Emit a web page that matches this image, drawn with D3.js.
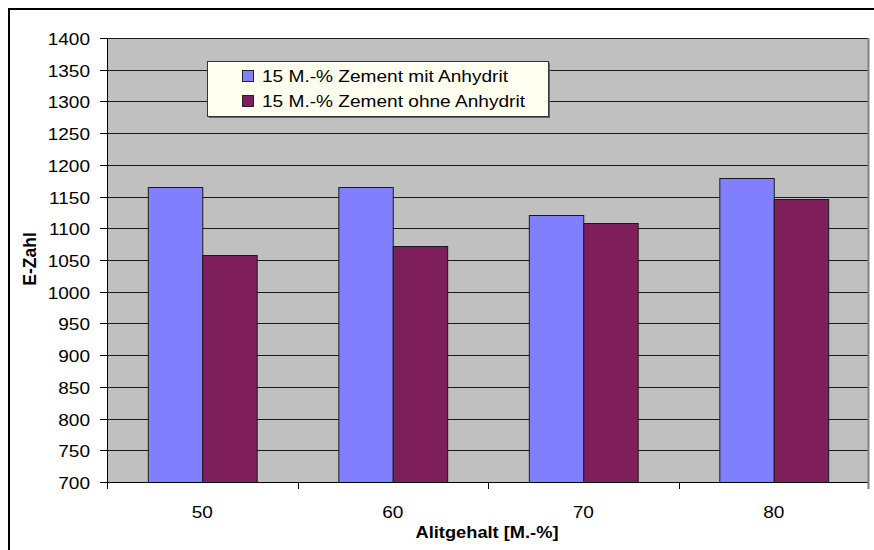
<!DOCTYPE html>
<html>
<head>
<meta charset="utf-8">
<script src="https://cdn.jsdelivr.net/npm/d3@7"></script>
<style>
  html, body { margin: 0; padding: 0; background: #fff; }
  svg { display: block; font-family: "Liberation Sans", Arial, sans-serif; }
</style>
</head>
<body>
<svg id="chart" width="874" height="550"></svg>
<script>
// Data
const categories = ["50", "60", "70", "80"];
const seriesNames = ["15 M.-% Zement mit Anhydrit", "15 M.-% Zement ohne Anhydrit"];
const mitAnhydrit = [1165, 1165, 1121, 1179];
const ohneAnhydrit = [1058, 1072, 1108, 1146];
const yTicks = [700, 750, 800, 850, 900, 950, 1000, 1050, 1100, 1150, 1200, 1250, 1300, 1350, 1400];
const seriesColors = ["#8080FF", "#7E1F5C"];

const series = [mitAnhydrit, ohneAnhydrit];
const svg = d3.select("#chart");

const plot = { left: 107, right: 868, top: 38, bottom: 482 };
const SX = 1.12;      // horizontal stretch of the lettering
const FS = 17;

// helper: horizontally stretched text
function label(parent, x, y, txt, opts = {}) {
  const g = parent.append("g")
    .attr("transform", `translate(${x},${y}) scale(${opts.sx || SX},1)`);
  return g.append("text")
    .attr("text-anchor", opts.anchor || "start")
    .attr("font-size", opts.size || FS)
    .attr("font-weight", opts.bold ? "bold" : "normal")
    .attr("fill", "#000")
    .text(txt);
}

// outer frame
svg.append("path")
  .attr("d", "M9,560 V9 H880")
  .attr("fill", "none").attr("stroke", "#000").attr("stroke-width", 2);

// scales
const x0 = d3.scaleBand().domain(categories).range([plot.left, plot.right + 1]).padding(0);
const bw = x0.bandwidth();
const x1 = d3.scaleBand().domain(d3.range(series.length))
  .range([bw * 0.75 / 3.5, bw * 2.75 / 3.5]).padding(0);
const y = d3.scaleLinear().domain([700, 1400]).range([plot.bottom, plot.top]);

// plot background
svg.append("rect")
  .attr("x", plot.left).attr("y", plot.top)
  .attr("width", plot.right - plot.left).attr("height", plot.bottom - plot.top)
  .attr("fill", "#C0C0C0");

// gridlines
svg.append("g").selectAll("line").data(yTicks.filter(t => t > 700)).join("line")
  .attr("x1", plot.left).attr("x2", plot.right)
  .attr("y1", d => Math.round(y(d)) + 0.5).attr("y2", d => Math.round(y(d)) + 0.5)
  .attr("stroke", "#1a1a1a").attr("stroke-width", 1);

// right border of plot area
svg.append("line")
  .attr("x1", plot.right + 0.5).attr("x2", plot.right + 0.5)
  .attr("y1", plot.top).attr("y2", plot.bottom)
  .attr("stroke", "#808080").attr("stroke-width", 2);

// bars
const groups = svg.append("g").selectAll("g").data(categories).join("g")
  .attr("transform", d => `translate(${x0(d)},0)`);
groups.selectAll("rect")
  .data((c, i) => series.map((s, k) => ({ k, v: s[i] })))
  .join("rect")
  .attr("x", d => x1(d.k) + 0.5)
  .attr("width", x1.bandwidth())
  .attr("y", d => Math.round(y(d.v)) + 0.5)
  .attr("height", d => Math.round(y(700)) - Math.round(y(d.v)))
  .attr("fill", d => seriesColors[d.k])
  .attr("stroke", "#1a1a1a").attr("stroke-width", 1);

// y axis
const yAxis = svg.append("g");
yAxis.append("line")
  .attr("x1", plot.left + 0.5).attr("x2", plot.left + 0.5)
  .attr("y1", plot.top).attr("y2", plot.bottom)
  .attr("stroke", "#000");
yTicks.forEach(t => {
  const yy = Math.round(y(t)) + 0.5;
  yAxis.append("line").attr("x1", plot.left - 7).attr("x2", plot.left)
    .attr("y1", yy).attr("y2", yy).attr("stroke", "#000");
  label(yAxis, 90, yy + 6, String(t), { anchor: "end" });
});

// x axis
const xAxis = svg.append("g");
xAxis.append("line")
  .attr("x1", plot.left).attr("x2", plot.right + 1)
  .attr("y1", plot.bottom + 0.5).attr("y2", plot.bottom + 0.5)
  .attr("stroke", "#000");
const bounds = categories.map(c => x0(c)).concat([plot.right + 1]);
bounds.forEach((bx, i) => {
  const last = i === bounds.length - 1;
  const xx = Math.round(bx) + 0.5 - (last ? 1 : 0);
  xAxis.append("line").attr("x1", xx).attr("x2", xx)
    .attr("y1", plot.bottom).attr("y2", plot.bottom + 7)
    .attr("stroke", last ? "#808080" : "#000").attr("stroke-width", last ? 2 : 1);
});
categories.forEach(c => {
  label(xAxis, x0(c) + bw / 2, 518, c, { anchor: "middle" });
});

// axis titles
label(svg, 487, 538, "Alitgehalt [M.-%]", { anchor: "middle", bold: true, size: 16.3 });
svg.append("text")
  .attr("transform", "translate(36,259) rotate(-90)")
  .attr("text-anchor", "middle")
  .attr("font-size", 17.5).attr("font-weight", "bold")
  .text("E-Zahl");

// legend
const lg = svg.append("g").attr("transform", "translate(207,61)");
lg.append("rect").attr("x", 2).attr("y", 2).attr("width", 341).attr("height", 55).attr("fill", "#666");
lg.append("rect").attr("x", 0.5).attr("y", 0.5).attr("width", 341).attr("height", 55)
  .attr("fill", "#FFFFF0").attr("stroke", "#333");
seriesNames.forEach((n, k) => {
  const cy = 15 + k * 25;
  lg.append("rect").attr("x", 35.5).attr("y", cy - 5.5).attr("width", 11).attr("height", 11)
    .attr("fill", seriesColors[k]).attr("stroke", "#222");
  label(lg, 55, cy + 6, n, { size: 16.6, sx: 1.15 });
});
</script>
</body>
</html>
